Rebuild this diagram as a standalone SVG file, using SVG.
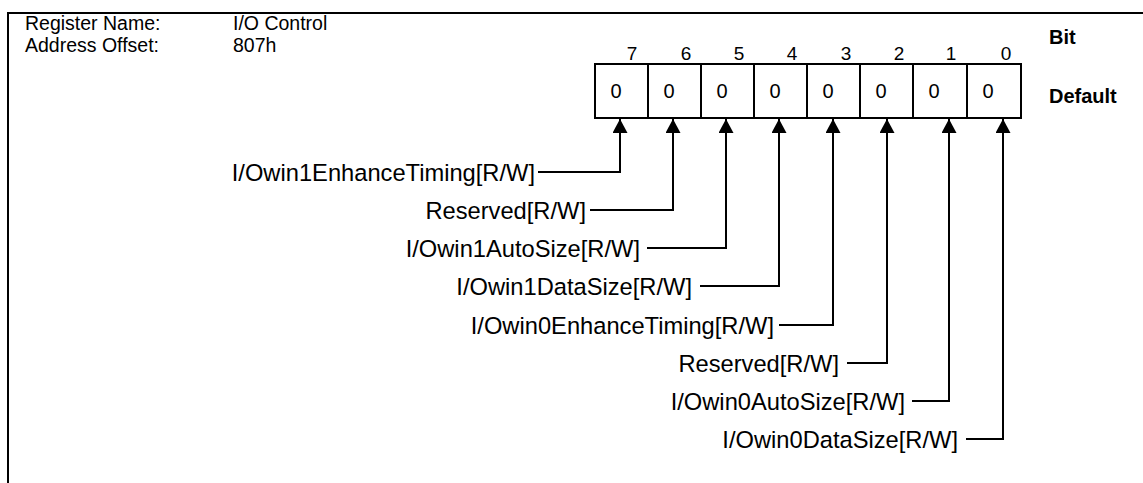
<svg xmlns="http://www.w3.org/2000/svg" width="1143" height="483" viewBox="0 0 1143 483">
<style>
text{font-family:"Liberation Sans",Arial,sans-serif;fill:#000}
.h{font-size:19.5px}
.n{font-size:19px;text-anchor:middle}
.v{font-size:20px;text-anchor:middle}
.b{font-size:20px;font-weight:bold}
.l{font-size:23.7px;text-anchor:end}
.box{fill:#fff;stroke:#000;stroke-width:2}
.c{fill:none;stroke:#000;stroke-width:2}
</style>
<defs>
<marker id="ah" markerWidth="15" markerHeight="15" refX="14" refY="7.5" orient="auto" markerUnits="userSpaceOnUse" viewBox="0 0 15 15">
<path d="M0,0 L14,7.5 L0,15 Z" fill="#000"/>
</marker>
</defs>
<rect x="8" y="13" width="1200" height="500" fill="none" stroke="#000" stroke-width="2"/>
<g id="header">
<text class="h" x="25" y="30">Register Name:</text>
<text class="h" x="233" y="30">I/O Control</text>
<text class="h" x="25" y="52">Address Offset:</text>
<text class="h" x="233" y="52">807h</text>
</g>
<g id="legend">
<text class="b" x="1049" y="44">Bit</text>
<text class="b" x="1049" y="103">Default</text>
</g>
<g id="bit7"><rect class="box" x="595" y="64" width="53" height="54"/><text class="n" x="632" y="60">7</text><text class="v" x="616" y="98">0</text></g>
<g id="bit6"><rect class="box" x="648" y="64" width="53" height="54"/><text class="n" x="686" y="60">6</text><text class="v" x="669" y="98">0</text></g>
<g id="bit5"><rect class="box" x="701" y="64" width="53" height="54"/><text class="n" x="739" y="60">5</text><text class="v" x="722" y="98">0</text></g>
<g id="bit4"><rect class="box" x="754" y="64" width="53" height="54"/><text class="n" x="792" y="60">4</text><text class="v" x="775" y="98">0</text></g>
<g id="bit3"><rect class="box" x="807" y="64" width="53" height="54"/><text class="n" x="846" y="60">3</text><text class="v" x="828" y="98">0</text></g>
<g id="bit2"><rect class="box" x="860" y="64" width="53" height="54"/><text class="n" x="899" y="60">2</text><text class="v" x="881" y="98">0</text></g>
<g id="bit1"><rect class="box" x="913" y="64" width="54" height="54"/><text class="n" x="951" y="60">1</text><text class="v" x="934" y="98">0</text></g>
<g id="bit0"><rect class="box" x="967" y="64" width="54" height="54"/><text class="n" x="1006" y="60">0</text><text class="v" x="988" y="98">0</text></g>
<g id="labels">
<text class="l" x="535" y="181">I/Owin1EnhanceTiming[R/W]</text>
<text class="l" x="586" y="219">Reserved[R/W]</text>
<text class="l" x="640" y="257">I/Owin1AutoSize[R/W]</text>
<text class="l" x="692" y="295">I/Owin1DataSize[R/W]</text>
<text class="l" x="774" y="334">I/Owin0EnhanceTiming[R/W]</text>
<text class="l" x="839" y="372">Reserved[R/W]</text>
<text class="l" x="905" y="410">I/Owin0AutoSize[R/W]</text>
<text class="l" x="958" y="448">I/Owin0DataSize[R/W]</text>
</g>
<g id="connectors">
<polyline class="c" points="538,172 620,172 620,119" marker-end="url(#ah)"/>
<polyline class="c" points="590,210 673,210 673,119" marker-end="url(#ah)"/>
<polyline class="c" points="647,248 726,248 726,119" marker-end="url(#ah)"/>
<polyline class="c" points="700,286 779,286 779,119" marker-end="url(#ah)"/>
<polyline class="c" points="779,325 833,325 833,119" marker-end="url(#ah)"/>
<polyline class="c" points="847,363 887,363 887,119" marker-end="url(#ah)"/>
<polyline class="c" points="912,401 949,401 949,119" marker-end="url(#ah)"/>
<polyline class="c" points="966,439 1003,439 1003,119" marker-end="url(#ah)"/>
</g>
</svg>
